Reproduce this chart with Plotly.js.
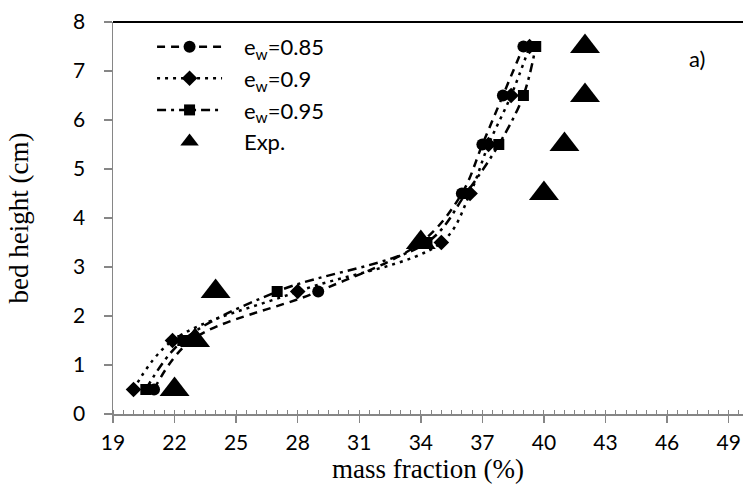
<!DOCTYPE html>
<html>
<head>
<meta charset="utf-8">
<script src="https://cdn.plot.ly/plotly-3.0.1.min.js"></script>
<style>html,body{margin:0;padding:0;background:#fff;}#chart{width:743px;height:490px;}</style>
</head>
<body>
<div id="chart"></div>
<script>
// bed heights (cm)
const heights = [0.5, 1.5, 2.5, 3.5, 4.5, 5.5, 6.5, 7.5];
// mass fraction (%) for each model series
const ew085 = [21.0, 22.8, 29.0, 34.0, 36.0, 37.0, 38.0, 39.0];
const ew090 = [20.0, 21.9, 28.0, 35.0, 36.4, 37.3, 38.4, 39.3];
const ew095 = [20.6, 22.4, 27.0, 34.3, 36.2, 37.8, 39.0, 39.6];
// experimental
const expX = [22, 23, 24, 34, 40, 41, 42, 42];
const expY = [0.5, 1.5, 2.5, 3.5, 4.5, 5.5, 6.5, 7.5];
const seriesNames = ['e<sub>w</sub>=0.85', 'e<sub>w</sub>=0.9', 'e<sub>w</sub>=0.95', 'Exp.'];
const xTicks = [19, 22, 25, 28, 31, 34, 37, 40, 43, 46, 49];
const yTicks = [0, 1, 2, 3, 4, 5, 6, 7, 8];

const gap = '\u00A0\u00A0\u00A0';
const lineBase = {color: '#000', width: 2.5, shape: 'spline', smoothing: 1};
const traces = [
  {x: ew085, y: heights, name: gap + seriesNames[0], mode: 'lines+markers',
   line: Object.assign({}, lineBase, {dash: '8px,6px'}),
   marker: {symbol: 'circle', size: 12, color: '#000'}},
  {x: ew090, y: heights, name: gap + seriesNames[1], mode: 'lines+markers',
   line: Object.assign({}, lineBase, {dash: '3px,5px'}),
   marker: {symbol: 'diamond', size: 12, color: '#000'}},
  {x: ew095, y: heights, name: gap + seriesNames[2], mode: 'lines+markers',
   line: Object.assign({}, lineBase, {dash: '9px,5px,3px,5px'}),
   marker: {symbol: 'square', size: 11, color: '#000'}},
  {x: expX, y: expY, name: gap + seriesNames[3], mode: 'markers',
   marker: {symbol: 'triangle-up', size: 26, color: '#000'}}
];

const sans = 'Lato, "Open Sans", sans-serif';
const tickFont = {family: sans, size: 21, color: '#000'};
const titleFont = {family: '"Liberation Serif", "Times New Roman", serif', size: 27, color: '#000'};

const layout = {
  width: 743, height: 490,
  margin: {l: 113, r: 0, t: 22, b: 76, pad: 0},
  paper_bgcolor: '#fff', plot_bgcolor: '#fff',
  showlegend: true,
  legend: {x: 0.062, y: 0.99, xanchor: 'left', yanchor: 'top',
           font: {family: sans, size: 22, color: '#000'},
           bgcolor: 'rgba(0,0,0,0)', itemwidth: 65, tracegroupgap: 0},
  xaxis: {
    range: [19, 49.7], tickvals: xTicks, ticktext: xTicks.map(String),
    showgrid: false, zeroline: false, showline: true, linecolor: '#868686', linewidth: 1.5,
    ticks: 'outside', ticklen: 7, tickwidth: 1.5, tickcolor: '#868686', ticklabelstandoff: 2,
    minor: {dtick: 0.5, tick0: 19, ticks: 'inside', ticklen: 4, tickwidth: 1, tickcolor: '#868686', showgrid: false},
    tickfont: tickFont,
    title: {text: 'mass fraction (%)', font: titleFont, standoff: 3}
  },
  yaxis: {
    range: [0, 8], tickvals: yTicks, ticktext: yTicks.map(String),
    showgrid: false, zeroline: false, showline: true, linecolor: '#868686', linewidth: 1.5,
    ticks: 'outside', ticklen: 8, tickwidth: 1.5, tickcolor: '#868686', ticklabelstandoff: 14,
    tickfont: tickFont,
    title: {text: 'bed height (cm)', font: titleFont, standoff: 36}
  },
  shapes: [{type: 'line', xref: 'paper', yref: 'paper', x0: 0, x1: 1, y0: 1, y1: 1,
            line: {color: '#000', width: 2}}],
  annotations: [{text: 'a)', xref: 'paper', yref: 'paper', x: 0.927, y: 0.908,
                 xanchor: 'center', yanchor: 'middle',
                 showarrow: false, font: {family: sans, size: 22, color: '#000'}}]
};

Plotly.newPlot('chart', traces, layout, {displayModeBar: false, staticPlot: true});
</script>
</body>
</html>
